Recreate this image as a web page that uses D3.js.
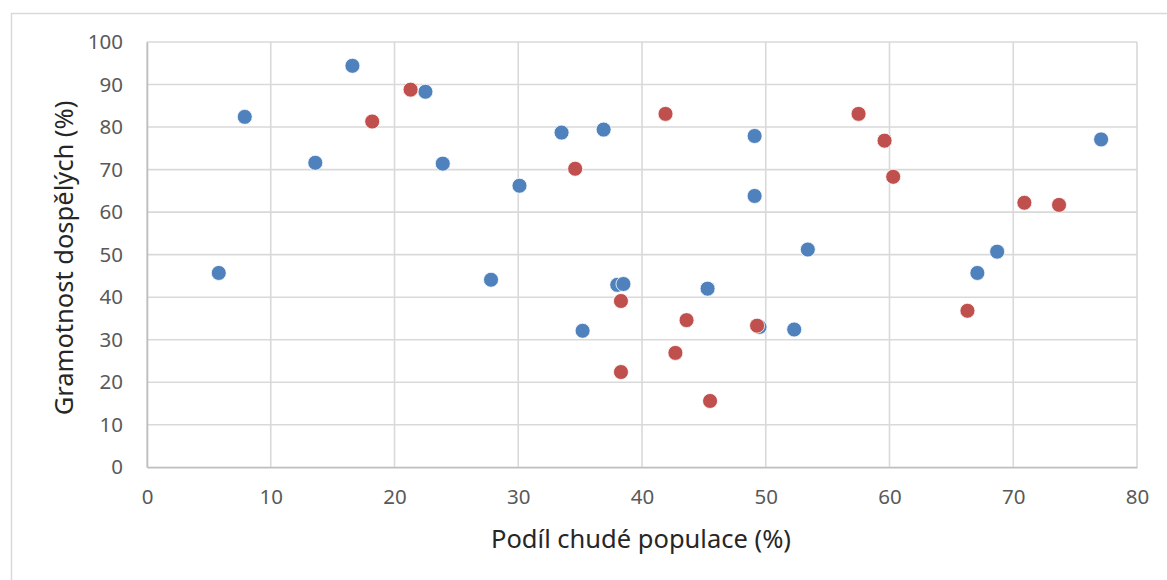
<!DOCTYPE html>
<html>
<head>
<meta charset="utf-8">
<script src="https://cdn.jsdelivr.net/npm/d3@7"></script>
<style>
  html, body { margin: 0; padding: 0; background: #fff; }
  svg { display: block; }
</style>
</head>
<body>
<svg id="chart" width="1167" height="580"></svg>
<script>
// Data
const blueX = [5.8, 7.9, 13.6, 16.6, 22.5, 23.9, 27.8, 30.1, 33.5, 36.9, 38.0, 38.5, 35.2, 45.3, 49.1, 49.1, 49.5, 52.3, 53.4, 67.1, 68.7, 77.1];
const blueY = [45.7, 82.4, 71.6, 94.4, 88.3, 71.4, 44.1, 66.2, 78.7, 79.4, 42.9, 43.1, 32.1, 42.0, 77.9, 63.8, 33.0, 32.4, 51.2, 45.7, 50.7, 77.1];
const redX = [18.2, 21.3, 34.6, 41.9, 38.3, 43.6, 49.3, 42.7, 38.3, 45.5, 57.5, 59.6, 60.3, 66.3, 70.9, 73.7];
const redY = [81.3, 88.8, 70.2, 83.1, 39.1, 34.6, 33.3, 26.9, 22.4, 15.6, 83.1, 76.8, 68.3, 36.8, 62.2, 61.7];
const xTicks = [0, 10, 20, 30, 40, 50, 60, 70, 80];
const yTicks = [0, 10, 20, 30, 40, 50, 60, 70, 80, 90, 100];
const xTitle = "Podíl chudé populace (%)";
const yTitle = "Gramotnost dospělých (%)";
const blueColor = "#4f81bd";
const redColor = "#c0504d";

(function () {
const svg = d3.select("#chart");
const font = "'Noto Sans', 'Open Sans', sans-serif";

// chart frame
svg.append("rect").attr("x", 11.5).attr("y", 13.5).attr("width", 1200).attr("height", 700)
  .attr("fill", "#fff").attr("stroke", "#d9d9d9").attr("stroke-width", 1.5);

const pLeft = 147, pRight = 1137, pTop = 42, pBottom = 467.3;
const x = d3.scaleLinear().domain([0, 80]).range([pLeft, pRight]);
const y = d3.scaleLinear().domain([0, 100]).range([pBottom, pTop]);

// gridlines
svg.append("g").selectAll("line").data(yTicks).join("line")
  .attr("x1", pLeft).attr("x2", pRight)
  .attr("y1", d => y(d)).attr("y2", d => y(d))
  .attr("stroke", "#d9d9d9").attr("stroke-width", 1.6);
svg.append("g").selectAll("line").data(xTicks).join("line")
  .attr("y1", pTop).attr("y2", pBottom)
  .attr("x1", d => x(d)).attr("x2", d => x(d))
  .attr("stroke", "#d9d9d9").attr("stroke-width", 1.6);

// axes
const xAxis = svg.append("g").attr("transform", `translate(0,${pBottom})`)
  .call(d3.axisBottom(x).tickValues(xTicks).tickSize(0).tickPadding(22).tickFormat(d3.format("d")));
const yAxis = svg.append("g").attr("transform", `translate(${pLeft},0)`)
  .call(d3.axisLeft(y).tickValues(yTicks).tickSize(0).tickPadding(24).tickFormat(d3.format("d")));
[xAxis, yAxis].forEach(a => {
  a.select(".domain").attr("stroke", "#bfbfbf").attr("stroke-width", 1.6);
  a.selectAll("text").attr("fill", "#595959").style("font-family", font).style("font-size", "20.5px");
});
xAxis.selectAll("text").attr("dy", "0.71em");

// titles
svg.append("text").attr("x", 641).attr("y", 548).attr("text-anchor", "middle")
  .attr("fill", "#262626").style("font-family", font).style("font-size", "25.5px").text(xTitle);
svg.append("text").attr("transform", "translate(73,258) rotate(-90)").attr("text-anchor", "middle")
  .attr("fill", "#262626").style("font-family", font).style("font-size", "25.5px").text(yTitle);

// points
const blue = blueX.map((v, i) => ({ x: v, y: blueY[i] }));
const red = redX.map((v, i) => ({ x: v, y: redY[i] }));
svg.append("g").selectAll("circle").data(blue).join("circle")
  .attr("cx", d => x(d.x)).attr("cy", d => y(d.y)).attr("r", 7.5)
  .attr("fill", blueColor).attr("stroke", "#fff").attr("stroke-width", 0.8);
svg.append("g").selectAll("circle").data(red).join("circle")
  .attr("cx", d => x(d.x)).attr("cy", d => y(d.y)).attr("r", 7.5)
  .attr("fill", redColor).attr("stroke", "#fff").attr("stroke-width", 0.8);
})();
</script>
</body>
</html>
